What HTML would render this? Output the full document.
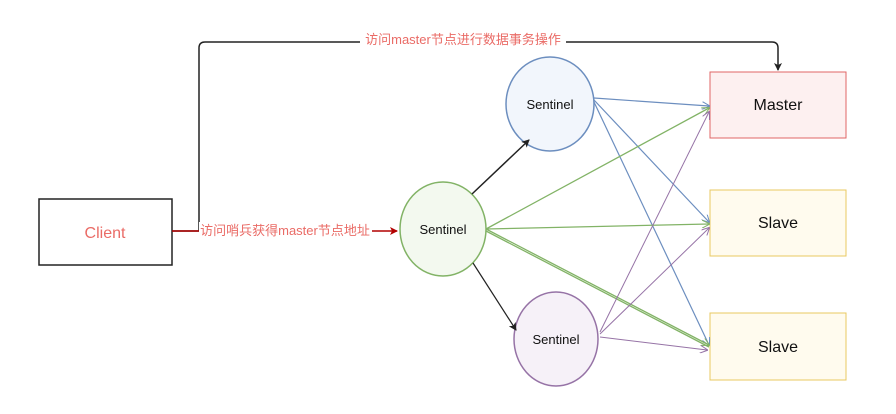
<!DOCTYPE html>
<html><head><meta charset="utf-8"><style>
html,body{margin:0;padding:0;background:#fff;width:896px;height:414px;overflow:hidden}
svg{display:block}
text{font-family:"Liberation Sans","Noto Sans CJK SC",sans-serif}
</style></head><body>
<svg width="896" height="414" viewBox="0 0 896 414" xmlns="http://www.w3.org/2000/svg">
<defs>
<marker id="ak" markerWidth="8" markerHeight="8" refX="7" refY="4" orient="auto" markerUnits="userSpaceOnUse"><path d="M0,0 L8,4 L0,8 L2,4z" fill="#222"/></marker>
<marker id="ar" markerWidth="8" markerHeight="8" refX="7" refY="4" orient="auto" markerUnits="userSpaceOnUse"><path d="M0,0 L8,4 L0,8 L2,4z" fill="#b20000"/></marker>
<marker id="ab" markerWidth="8" markerHeight="8" refX="7" refY="4" orient="auto" markerUnits="userSpaceOnUse"><path d="M0,0 L8,4 L0,8" fill="none" stroke="#6c8ebf"/></marker>
<marker id="ag" markerWidth="8" markerHeight="8" refX="7" refY="4" orient="auto" markerUnits="userSpaceOnUse"><path d="M0,0 L8,4 L0,8" fill="none" stroke="#82b366"/></marker>
<marker id="ap" markerWidth="8" markerHeight="8" refX="7" refY="4" orient="auto" markerUnits="userSpaceOnUse"><path d="M0,0 L8,4 L0,8" fill="none" stroke="#9673a6"/></marker>
</defs>
<rect x="39" y="199" width="133" height="66" fill="#fff" stroke="#222" stroke-width="1.5"/>
<text x="105" y="238" font-size="16" fill="#ea6b66" text-anchor="middle">Client</text>
<rect x="710" y="72" width="136" height="66" fill="#fdf0f0" stroke="#e06666" stroke-width="1"/>
<text x="778" y="110" font-size="16" fill="#111" text-anchor="middle">Master</text>
<rect x="710" y="190" width="136" height="66" fill="#fffbee" stroke="#e8c860" stroke-width="1"/>
<text x="778" y="228" font-size="16" fill="#111" text-anchor="middle">Slave</text>
<rect x="710" y="313" width="136" height="67" fill="#fffbee" stroke="#e8c860" stroke-width="1"/>
<text x="778" y="352" font-size="16" fill="#111" text-anchor="middle">Slave</text>
<ellipse cx="550" cy="104" rx="44" ry="47" fill="#f2f6fc" stroke="#6c8ebf" stroke-width="1.5"/>
<text x="550" y="109" font-size="13" fill="#111" text-anchor="middle">Sentinel</text>
<ellipse cx="443" cy="229" rx="43" ry="47" fill="#f3f9ef" stroke="#82b366" stroke-width="1.5"/>
<text x="443" y="234" font-size="13" fill="#111" text-anchor="middle">Sentinel</text>
<ellipse cx="556" cy="339" rx="42" ry="47" fill="#f6f1f8" stroke="#9673a6" stroke-width="1.5"/>
<text x="556" y="344" font-size="13" fill="#111" text-anchor="middle">Sentinel</text>
<path d="M172,231 H199 V48 Q199,42 205,42 H772 Q778,42 778,48 V70" fill="none" stroke="#222" stroke-width="1.5" marker-end="url(#ak)"/>
<rect x="360" y="32" width="206" height="16" fill="#fff"/>
<text x="463" y="44" font-size="13" fill="#ea6b66" text-anchor="middle">访问master节点进行数据事务操作</text>
<path d="M172,231 H397" stroke="#b20000" stroke-width="1.5" fill="none" marker-end="url(#ar)"/>
<rect x="199" y="222" width="173" height="16" fill="#fff"/>
<text x="285" y="235" font-size="13" fill="#ea6b66" text-anchor="middle">访问哨兵获得master节点地址</text>
<line x1="472" y1="194" x2="529" y2="140" stroke="#222" stroke-width="1.5" marker-end="url(#ak)"/>
<line x1="473" y1="263" x2="516" y2="330" stroke="#222" stroke-width="1.2" marker-end="url(#ak)"/>
<g stroke="#6c8ebf" stroke-width="1.2" fill="none">
<line x1="594" y1="98" x2="709" y2="106" marker-end="url(#ab)"/>
<line x1="594" y1="100" x2="709" y2="222" marker-end="url(#ab)"/>
<line x1="594" y1="102" x2="709" y2="345" marker-end="url(#ab)"/>
</g>
<g stroke="#82b366" stroke-width="1.3" fill="none">
<line x1="486" y1="229" x2="709" y2="108" marker-end="url(#ag)"/>
<line x1="486" y1="229" x2="709" y2="224" marker-end="url(#ag)"/>
<line x1="486" y1="229" x2="709" y2="345" marker-end="url(#ag)"/>
<line x1="486" y1="231" x2="709" y2="347"/>
</g>
<g stroke="#9673a6" stroke-width="1" fill="none">
<line x1="600" y1="332" x2="709" y2="112" marker-end="url(#ap)"/>
<line x1="600" y1="334" x2="709" y2="228" marker-end="url(#ap)"/>
<line x1="600" y1="337" x2="707" y2="350" marker-end="url(#ap)"/>
</g>
</svg>
</body></html>
